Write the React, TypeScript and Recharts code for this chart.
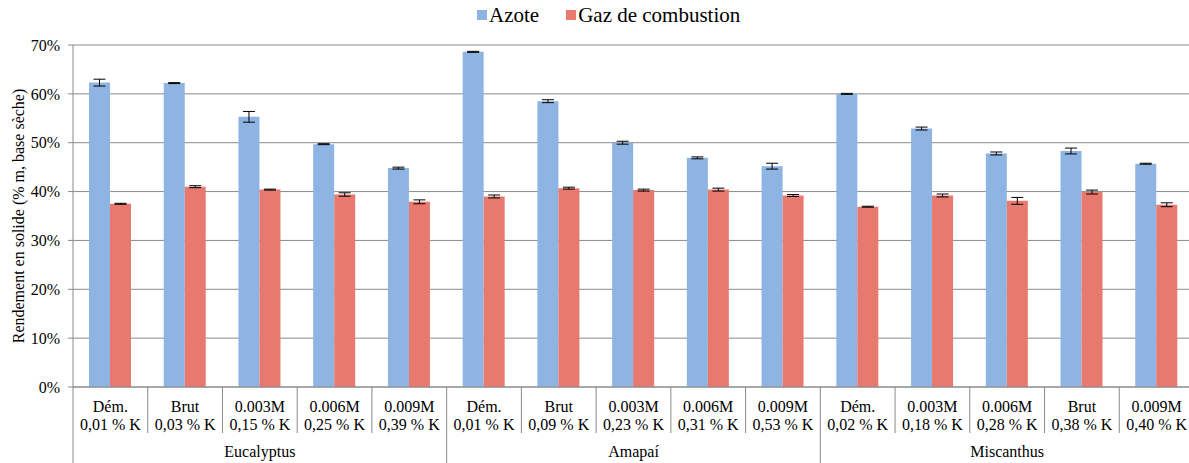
import { BarChart, Bar, XAxis, YAxis, CartesianGrid, Legend, ErrorBar } from 'recharts';

const categories = ['Dém.', 'Brut', '0.003M', '0.006M', '0.009M', 'Dém.', 'Brut', '0.003M', '0.006M', '0.009M', 'Dém.', '0.003M', '0.006M', 'Brut', '0.009M'];
const potassium = ['0,01 % K', '0,03 % K', '0,15 % K', '0,25 % K', '0,39 % K', '0,01 % K', '0,09 % K', '0,23 % K', '0,31 % K', '0,53 % K', '0,02 % K', '0,18 % K', '0,28 % K', '0,38 % K', '0,40 % K'];
const groups = ['Eucalyptus', 'Amapaí', 'Miscanthus'];
const groupSize = 5;

const azote = [62.3, 62.2, 55.3, 49.7, 44.8, 68.6, 58.5, 50.0, 46.9, 45.2, 60.0, 52.9, 47.8, 48.3, 45.7];
const azoteErr = [0.7, 0.1, 1.1, 0.1, 0.2, 0.1, 0.3, 0.3, 0.2, 0.6, 0.1, 0.3, 0.3, 0.6, 0.1];
const gaz = [37.5, 41.0, 40.4, 39.4, 37.9, 39.0, 40.7, 40.3, 40.4, 39.2, 36.9, 39.2, 38.1, 39.9, 37.3];
const gazErr = [0.1, 0.2, 0.1, 0.35, 0.4, 0.3, 0.2, 0.2, 0.3, 0.2, 0.1, 0.3, 0.7, 0.4, 0.4];

const yTicks = [0, 10, 20, 30, 40, 50, 60, 70];

const data = categories.map((name, i) => ({
  key: `${i}`,
  name,
  potassium: potassium[i],
  azote: azote[i],
  azoteErr: azoteErr[i],
  gaz: gaz[i],
  gazErr: gazErr[i],
}));

const FONT = '"Liberation Serif", "Times New Roman", serif';
const AXIS_COLOR = '#8a8a8a';
const BLUE = '#8DB4E2';
const RED = '#E8796F';

const CategoryTick = (props: any) => {
  const { x, y, payload, index } = props;
  const half = payload?.offset ?? 37;
  const pos = index % groupSize;
  const isGroupEnd = pos === groupSize - 1;
  return (
    <g>
      <text x={x} y={y + 25} textAnchor="middle" fontFamily={FONT} fontSize={16} fill="#000">
        {categories[index]}
      </text>
      <text x={x} y={y + 43} textAnchor="middle" fontFamily={FONT} fontSize={16} fill="#000">
        {potassium[index]}
      </text>
      {index === 0 && <line x1={x - half} x2={x - half} y1={y} y2={y + 76} stroke={AXIS_COLOR} />}
      {index < categories.length - 1 && (
        <line x1={x + half} x2={x + half} y1={y} y2={isGroupEnd ? y + 76 : y + 46} stroke={AXIS_COLOR} />
      )}
      {pos === Math.floor(groupSize / 2) && (
        <text x={x} y={y + 70} textAnchor="middle" fontFamily={FONT} fontSize={16} fill="#000">
          {groups[Math.floor(index / groupSize)]}
        </text>
      )}
    </g>
  );
};

const YLabel = (props: any) => {
  const { viewBox } = props;
  const cy = viewBox.y + viewBox.height / 2;
  const cx = 18;
  return (
    <text
      x={cx}
      y={cy}
      transform={`rotate(-90, ${cx}, ${cy})`}
      textAnchor="middle"
      dominantBaseline="central"
      fontFamily={FONT}
      fontSize={16}
      fill="#000"
    >
      Rendement en solide (% m, base sèche)
    </text>
  );
};

const LegendContent = (props: any) => {
  const items = props.payload || [];
  return (
    <div style={{ display: 'flex', height: 26, alignItems: 'center', fontFamily: FONT, fontSize: 21, color: '#000' }}>
      {items.map((it: any, i: number) => (
        <div key={i} style={{ display: 'flex', alignItems: 'center', marginRight: i < items.length - 1 ? 27 : 0 }}>
          <span style={{ display: 'inline-block', width: 10, height: 10, background: it.color, marginRight: 2 }} />
          <span>{it.value}</span>
        </div>
      ))}
    </div>
  );
};

export default function App() {
  return (
    <div style={{ position: 'absolute', left: 0, top: 0, width: 1189, height: 463, overflow: 'hidden', background: '#fff' }}>
      <BarChart
        width={1200}
        height={463}
        data={data}
        margin={{ top: 19, right: 6, left: 0, bottom: 0 }}
        barSize={21}
        barGap={0}
      >
        <CartesianGrid horizontal vertical={false} stroke={AXIS_COLOR} />
        <XAxis
          dataKey="key"
          height={76}
          interval={0}
          tickLine={false}
          tickSize={0}
          tickMargin={0}
          axisLine={{ stroke: AXIS_COLOR }}
          tick={<CategoryTick />}
        />
        <YAxis
          width={73}
          domain={[0, 70]}
          ticks={yTicks}
          tickFormatter={(v: number) => `${v}%`}
          axisLine={{ stroke: AXIS_COLOR }}
          tickLine={{ stroke: AXIS_COLOR }}
          tickSize={5}
          tickMargin={8}
          tick={{ fontFamily: FONT, fontSize: 16, fill: '#000' }}
          label={<YLabel />}
        />
        <Legend
          verticalAlign="top"
          content={<LegendContent />}
          wrapperStyle={{ top: 2, left: 477, width: 'auto' }}
        />
        <Bar dataKey="azote" name="Azote" fill={BLUE} isAnimationActive={false}>
          <ErrorBar dataKey="azoteErr" width={6} stroke="#000" strokeWidth={1} isAnimationActive={false} />
        </Bar>
        <Bar dataKey="gaz" name="Gaz de combustion" fill={RED} isAnimationActive={false}>
          <ErrorBar dataKey="gazErr" width={6} stroke="#000" strokeWidth={1} isAnimationActive={false} />
        </Bar>
      </BarChart>
    </div>
  );
}
